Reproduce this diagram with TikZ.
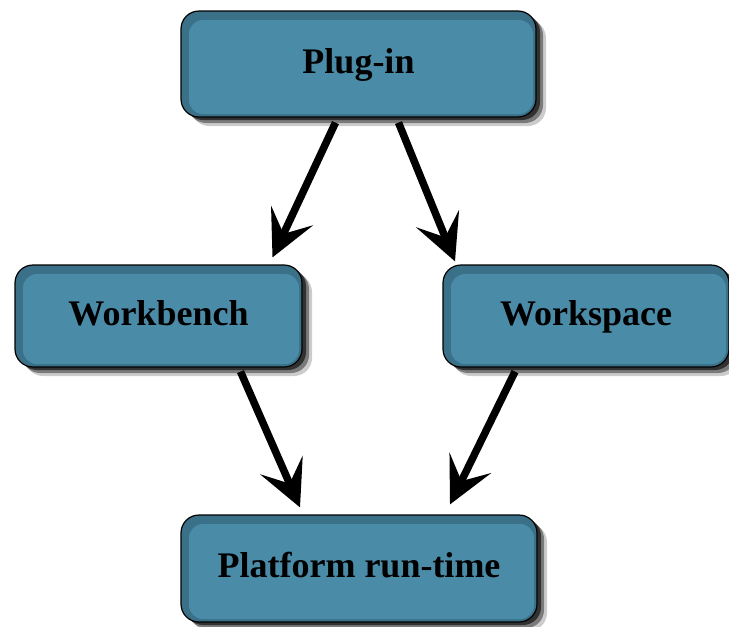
\documentclass[tikz,border=0pt]{standalone}
\usepackage{fontspec}
\setmainfont{Liberation Serif}
\usetikzlibrary{arrows.meta,shadows,calc}

\definecolor{boxedge}{HTML}{3A7189}
\definecolor{boxface}{HTML}{4A8BA8}

\tikzset{
  module/.style={
    draw=black, line width=1.2pt, fill=boxedge, rounded corners=18pt,
    minimum width=#1, font=\fontsize{36}{42}\selectfont\bfseries,
    text=black, inner sep=0pt, text height=22pt, text depth=4pt,
    general shadow={shadow xshift=10pt, shadow yshift=-9pt, fill=black, opacity=0.2},
    general shadow={shadow xshift=7pt, shadow yshift=-6pt, fill=black, opacity=0.4},
    general shadow={shadow xshift=4pt, shadow yshift=-3pt, fill=black, opacity=0.6},
    path picture={
      \fill[boxface, rounded corners=14pt]
        ($(path picture bounding box.north west)+(8pt,-9pt)$) rectangle
        ($(path picture bounding box.south east)+(-3pt,3pt)$);
    }
  },
  link/.style={line width=7.5pt, draw=black,
    -{Stealth[length=46pt, width=46pt, inset=20pt]}}
}

\begin{document}
\begin{tikzpicture}[x=1pt, y=-1pt]
  \useasboundingbox (0,0) rectangle (729,627);

  \node[module=355pt, minimum height=106pt] (plug)  at (358.5,64)  {Plug-in};
  \node[module=287pt, minimum height=102pt] (bench) at (158.5,316) {Workbench};
  \node[module=286pt, minimum height=102pt] (space) at (586,316)   {Workspace};
  \node[module=356pt, minimum height=107pt] (run)   at (359,568.5) {Platform run-time};

  \draw[link] ($(plug.south)+(-23,5)$)  -- ($(bench.north)+(114,-7)$);
  \draw[link] ($(plug.south)+(40,5)$)   -- ($(space.north)+(-131,-3)$);
  \draw[link] ($(bench.south)+(82,4)$)  -- ($(run.north)+(-59,-7)$);
  \draw[link] ($(space.south)+(-71,4)$) -- ($(run.north)+(91,-10)$);
\end{tikzpicture}
\end{document}
